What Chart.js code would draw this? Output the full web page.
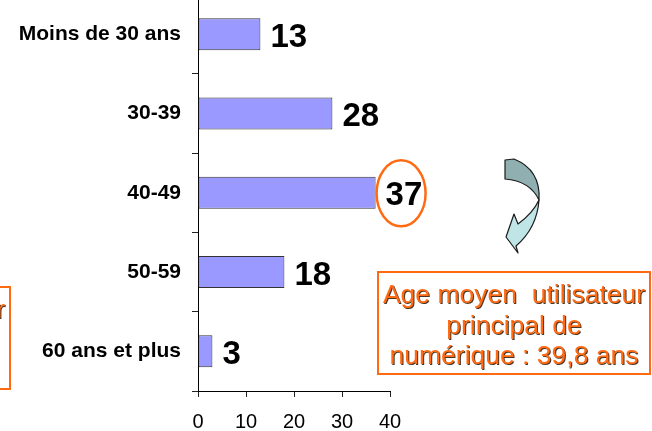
<!DOCTYPE html>
<html>
<head>
<meta charset="utf-8">
<script src="https://cdn.jsdelivr.net/npm/chart.js@4/dist/chart.umd.min.js"></script>
<style>
  html, body { margin: 0; padding: 0; background: #fff; overflow: hidden; }
  #wrap { position: relative; width: 652px; height: 431px; overflow: hidden; }
  #chart { position: absolute; left: 0; top: -29px; }
</style>
</head>
<body>
<div id="wrap"><canvas id="chart" width="652" height="460"></canvas></div>
<script>
// tranches d'age et effectifs
const categories = ['Moins de 30 ans', '30-39', '40-49', '50-59', '60 ans et plus'];
const values = [13, 28, 37, 18, 3];
const xMin = 0, xMax = 40, xStep = 10;
const highlightIndex = 2;  // barre entourée
const boxLines = ['Age moyen  utilisateur', 'principal de', 'numérique : 39,8 ans'];

const FONT = "'Liberation Sans', Arial, sans-serif";
const ORANGE = '#FF6A13';
const SHIFT = 29; // décalage du canvas (haut de l'axe hors cadre)

// étiquettes de valeur à droite des barres
const valueLabels = {
  id: 'valueLabels',
  afterDatasetsDraw(chart) {
    const ctx = chart.ctx;
    const meta = chart.getDatasetMeta(0);
    ctx.save();
    ctx.font = 'bold 33px ' + FONT;
    ctx.fillStyle = '#000';
    ctx.textAlign = 'left';
    ctx.textBaseline = 'alphabetic';
    meta.data.forEach((bar, i) => {
      ctx.fillText(String(values[i]), bar.x + 10, bar.y + 12.5);
    });
    ctx.restore();
  }
};

// encadré texte
function drawBox(ctx, left, top) {
  const w = 272, h = 102;
  ctx.save();
  ctx.strokeStyle = ORANGE;
  ctx.lineWidth = 2;
  ctx.strokeRect(left, top, w, h);
  ctx.font = '26.5px ' + FONT;
  ctx.textAlign = 'center';
  ctx.textBaseline = 'alphabetic';
  const cx = left + w / 2;
  boxLines.forEach((t, i) => {
    const y = top + 31 + i * 30.5;
    ctx.fillStyle = 'rgba(40,20,0,0.85)';
    ctx.fillText(t, cx + 1, y + 1);
    ctx.fillStyle = ORANGE;
    ctx.fillText(t, cx, y);
  });
  ctx.restore();
}

// flèche courbe
function drawArrow(ctx) {
  ctx.save();
  ctx.strokeStyle = '#1a1a1a';
  ctx.lineWidth = 1.2;
  ctx.lineJoin = 'round';
  // partie basse (claire)
  ctx.beginPath();
  ctx.moveTo(539, 200);
  ctx.quadraticCurveTo(537, 228, 516, 246);
  ctx.lineTo(518, 253);
  ctx.lineTo(506, 237);
  ctx.lineTo(514, 214);
  ctx.lineTo(518, 224);
  ctx.quadraticCurveTo(533, 213, 539, 200);
  ctx.closePath();
  ctx.fillStyle = '#BFE5E6';
  ctx.fill();
  ctx.stroke();
  // partie haute (foncée)
  ctx.beginPath();
  ctx.moveTo(505, 160);
  ctx.lineTo(514, 159);
  ctx.quadraticCurveTo(541, 170, 539, 200);
  ctx.quadraticCurveTo(530, 181, 505, 179);
  ctx.closePath();
  ctx.fillStyle = '#90AFB1';
  ctx.fill();
  ctx.stroke();
  ctx.restore();
}

const decorations = {
  id: 'decorations',
  afterDraw(chart) {
    const ctx = chart.ctx;
    const bar = chart.getDatasetMeta(0).data[highlightIndex];
    ctx.save();
    // ellipse autour de la valeur max
    ctx.strokeStyle = ORANGE;
    ctx.lineWidth = 2.5;
    ctx.beginPath();
    ctx.ellipse(bar.x + 25.5, bar.y + 0.5, 24.5, 33, 0, 0, Math.PI * 2);
    ctx.stroke();
    // le reste en coordonnées fenêtre
    ctx.translate(0, SHIFT);
    drawArrow(ctx);
    drawBox(ctx, 378, 272);
    drawBox(ctx, -262, 287);
    ctx.restore();
  }
};

new Chart(document.getElementById('chart'), {
  type: 'bar',
  data: {
    labels: categories,
    datasets: [{
      data: values,
      backgroundColor: '#9999FF',
      borderColor: '#333333',
      borderWidth: 1,
      borderSkipped: false,
      categoryPercentage: 1,
      barPercentage: 0.404
    }]
  },
  options: {
    indexAxis: 'y',
    responsive: false,
    animation: false,
    layout: { padding: { left: 0, right: 262, top: 0, bottom: 0 } },
    plugins: {
      legend: { display: false },
      tooltip: { enabled: false }
    },
    scales: {
      x: {
        min: xMin,
        max: xMax,
        afterFit(scale) { scale.height = 40; },
        ticks: {
          stepSize: xStep,
          color: '#000',
          padding: 13,
          maxRotation: 0,
          font: { family: FONT, size: 20 }
        },
        grid: { drawOnChartArea: false, tickLength: 6, tickColor: '#222' },
        border: { color: '#000', width: 1 }
      },
      y: {
        afterFit(scale) { scale.width = 198; },
        ticks: {
          color: '#000',
          padding: 11,
          font: { family: FONT, size: 21, weight: 'bold' }
        },
        grid: { drawOnChartArea: false, offset: true, tickLength: 6, tickColor: '#222' },
        border: { color: '#000', width: 1 }
      }
    }
  },
  plugins: [valueLabels, decorations]
});
</script>
</body>
</html>
